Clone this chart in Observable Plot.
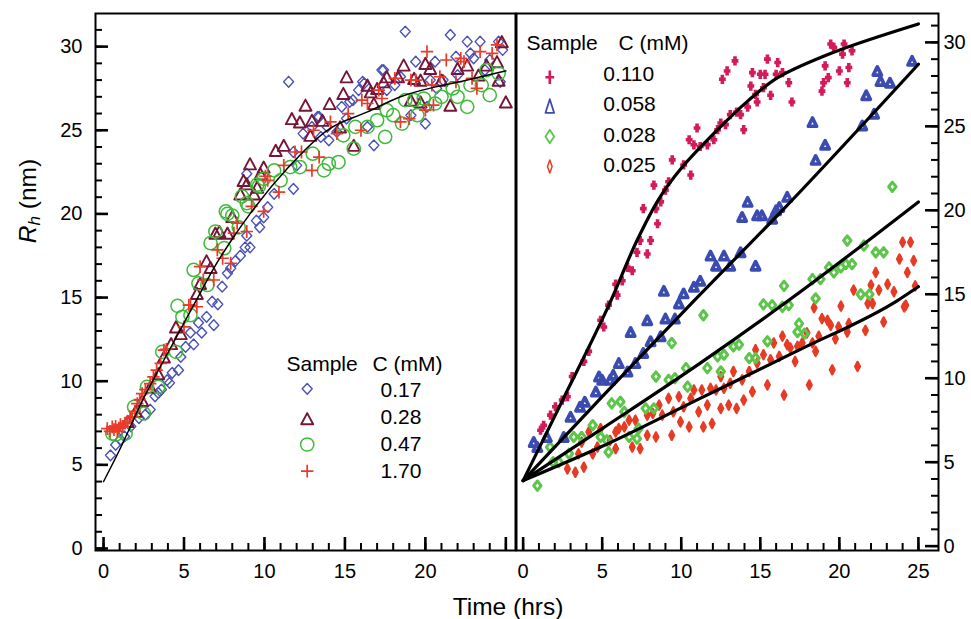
<!DOCTYPE html>
<html><head><meta charset="utf-8">
<script src="https://cdn.jsdelivr.net/npm/d3@7"></script>
<script src="https://cdn.jsdelivr.net/npm/@observablehq/plot@0.6"></script>
<style>
body{margin:0;background:#fff;color:#000;}
#wrap{position:relative;width:971px;height:619px;font-family:"Liberation Sans",Arial,Helvetica,sans-serif;}
#wrap svg{position:absolute;top:0;}
</style></head><body><div id="wrap"></div>
<script>
// ---------- DATA (time in hrs, Rh in nm) ----------
const leftConcs = ["0.17", "0.28", "0.47", "1.70"];
const rightConcs = ["0.110", "0.058", "0.028", "0.025"];
const leftXTickLabels = [0, 5, 10, 15, 20];
const rightXTickLabels = [0, 5, 10, 15, 20, 25];
const yTickLabels = [0, 5, 10, 15, 20, 25, 30];
const xMinorTicks = [0,1,2,3,4,5,6,7,8,9,10,11,12,13,14,15,16,17,18,19,20,21,22,23,24,25];
const xMajorTicks = [0, 5, 10, 15, 20, 25];
const yMinorTicks = [0,1,2,3,4,5,6,7,8,9,10,11,12,13,14,15,16,17,18,19,20,21,22,23,24,25,26,27,28,29,30,31];
const yMajorTicks = [0, 5, 10, 15, 20, 25, 30];

// left panel: 0.17 mM
const L017 = [[0.43,5.57],[0.75,6.2],[1.05,6.5],[1.3,6.7],[1.7,7.3],[2.2,7.8],[2.6,8.0],[2.9,8.3],[3.2,9.1],[3.4,9.3],[3.6,9.5],[3.95,10.06],[4.1,9.9],[4.27,10.5],[4.66,10.66],[4.8,11.45],[5.1,12.05],[5.4,12.9],[5.6,12.2],[6.1,12.9],[5.9,13.5],[6.4,13.85],[6.75,14.75],[6.85,13.35],[7.1,14.6],[7.37,15.65],[7.7,16.45],[7.9,16.75],[8.2,17.2],[8.5,17.5],[8.8,18.0],[9.1,18.0],[8.9,18.7],[9.5,19.6],[9.7,19.2],[9.95,19.8],[8.9,22.4],[10.2,20.4],[10.6,21.2],[11.8,21.5],[11.5,27.9],[11.8,23.7],[12.0,22.9],[12.4,24.8],[12.95,25.2],[13.4,25.8],[13.5,24.6],[14.0,24.4],[14.5,24.9],[15.1,25.7],[14.8,26.4],[15.5,26.8],[15.85,27.4],[16.1,27.9],[16.4,25.2],[16.8,24.1],[17.4,28.6],[17.6,27.4],[18.1,27.7],[18.75,30.9],[18.45,28.2],[19.4,29.1],[19.1,25.9],[20.0,25.4],[20.1,26.4],[20.3,28.0],[20.7,27.5],[20.6,29.1],[21.1,28.0],[21.55,30.7],[21.9,29.4],[22.0,28.3],[22.6,30.3],[22.8,29.6],[23.0,29.3],[23.4,30.3],[23.7,28.6],[24.0,29.2],[24.55,30.3],[24.8,29.8],[24.65,27.9],[13.3,25.8],[13.9,25.2],[15.3,26.7],[16.2,27.8],[17.3,28.6]];
// left panel: 0.28 mM
const L028 = [[1.5,7.6],[2.0,8.2],[2.4,8.85],[2.9,9.65],[3.4,10.45],[3.75,11.45],[4.2,12.25],[4.5,13.25],[4.8,12.85],[5.8,15.25],[6.0,15.85],[6.4,17.2],[6.65,16.8],[6.95,18.85],[7.2,18.95],[7.7,18.85],[8.0,19.85],[8.5,21.2],[8.7,22.0],[8.9,21.8],[9.1,23.0],[9.35,21.2],[9.55,21.6],[9.75,22.4],[9.95,22.8],[10.7,23.8],[11.2,24.1],[11.7,25.7],[12.2,25.5],[12.55,26.5],[12.85,24.7],[12.95,25.6],[13.6,25.6],[14.05,26.6],[14.7,25.2],[14.9,27.2],[15.1,28.2],[15.55,24.1],[16.4,27.7],[16.6,27.3],[16.8,26.6],[17.0,27.5],[17.4,27.9],[17.6,28.2],[18.3,28.2],[18.65,28.9],[19.1,26.8],[19.3,28.1],[19.7,28.0],[19.7,26.7],[20.0,29.0],[20.3,28.7],[21.0,28.0],[21.55,26.5],[22.0,28.7],[22.6,28.9],[23.3,28.3],[23.8,28.9],[24.45,29.1],[24.55,28.0],[24.75,30.3],[25.0,26.7]];
// left panel: 0.47 mM
const L047 = [[0.54,6.87],[0.75,6.8],[1.37,6.87],[1.9,8.46],[2.5,8.07],[2.7,9.66],[3.4,9.66],[3.65,11.75],[4.5,11.75],[4.6,14.5],[4.9,13.85],[5.4,13.95],[5.6,16.65],[5.9,15.85],[6.45,15.75],[6.65,18.25],[6.95,18.95],[7.5,17.95],[7.6,20.15],[7.7,20.0],[8.0,19.9],[8.4,19.2],[8.6,21.05],[8.9,20.65],[9.0,20.45],[9.55,21.75],[9.65,21.65],[9.95,22.1],[10.6,22.6],[11.0,22.0],[11.6,22.8],[12.2,22.8],[13.0,23.6],[13.7,22.6],[14.0,23.0],[14.6,23.1],[14.9,24.7],[15.55,23.9],[15.65,25.2],[16.4,25.2],[17.0,25.6],[17.5,24.6],[17.6,26.2],[18.0,25.9],[18.55,25.4],[18.75,26.8],[19.3,26.8],[19.5,25.9],[19.9,26.9],[20.6,26.6],[21.0,27.0],[21.7,27.5],[22.0,27.0],[22.6,26.4],[22.8,27.7],[23.5,27.7],[24.0,27.1],[23.8,28.6],[24.55,28.4]];
// left panel: 1.70 mM
const L170 = [[0.23,7.17],[0.4,7.0],[0.54,7.27],[0.65,7.1],[0.75,7.3],[0.85,7.0],[0.95,7.2],[1.05,7.4],[1.2,7.3],[1.35,7.5],[1.5,7.6],[1.65,7.8],[1.78,7.86],[1.95,8.2],[2.1,8.66],[2.25,8.9],[2.4,9.26],[2.6,9.5],[2.9,9.86],[3.1,10.26],[3.3,10.66],[3.55,11.06],[3.75,11.86],[3.9,11.9],[5.0,13.25],[5.3,14.55],[5.4,14.55],[5.8,14.45],[6.0,16.85],[6.2,16.05],[6.85,16.05],[7.07,17.85],[7.4,17.35],[7.9,17.05],[8.1,18.85],[8.3,19.45],[8.9,18.95],[9.2,20.45],[9.95,20.15],[10.06,22.25],[10.2,22.0],[10.9,21.3],[11.2,22.9],[11.9,23.7],[12.3,23.7],[12.95,22.6],[13.4,23.4],[13.05,25.0],[14.1,25.5],[14.5,24.8],[15.2,26.0],[16.0,25.0],[16.05,26.8],[16.4,26.6],[17.1,27.4],[17.3,26.9],[18.1,28.1],[18.45,25.5],[19.0,25.7],[19.1,28.0],[19.4,28.0],[20.0,26.2],[20.1,29.7],[20.4,27.7],[20.5,26.5],[20.9,28.2],[21.3,29.2],[21.9,27.9],[22.2,29.3],[22.4,29.1],[22.9,28.1],[23.2,27.5],[23.4,29.7],[24.15,29.6],[24.45,30.1]];
const leftFit = [[0,4.0],[1,5.9],[2.5,9.0],[4,11.7],[5.8,14.9],[7,17.0],[8,18.5],[9.1,20.0],[11.5,22.8],[13.9,25.0],[16.4,26.1],[18.45,27.0],[22.6,28.0],[25,28.55]];

// right panel: 0.110 mM
const R110 = [[1.1,6.9],[1.3,7.2],[1.73,7.8],[2.04,8.3],[2.47,8.7],[2.8,8.9],[3.1,10.1],[3.84,11.0],[4.15,11.6],[4.9,13.45],[5.1,13.05],[5.4,14.35],[5.95,14.95],[5.85,15.6],[6.27,15.8],[6.6,16.6],[6.9,16.4],[7.2,17.5],[7.85,17.4],[7.4,18.2],[8.06,18.2],[8.5,19.2],[7.6,20.1],[8.4,20.1],[8.7,20.5],[9.0,21.2],[8.27,21.5],[9.2,21.7],[10.15,22.7],[10.6,22.1],[9.43,23.0],[10.5,24.2],[10.8,23.9],[11.0,24.9],[11.2,23.8],[11.65,23.9],[12.06,24.2],[12.3,24.8],[12.5,25.2],[12.8,25.1],[13.1,25.7],[13.5,25.85],[13.75,25.7],[13.95,24.8],[14.2,26.15],[14.4,27.4],[14.7,26.9],[14.8,26.45],[14.5,28.2],[15.0,28.1],[15.3,28.1],[15.2,27.3],[15.45,29.0],[15.65,26.85],[16.1,28.8],[16.0,28.1],[16.4,28.2],[16.8,27.6],[17.0,26.45],[12.6,27.8],[12.9,28.3],[13.4,28.9],[18.9,27.1],[19.0,27.6],[19.3,27.9],[19.1,28.6],[19.45,29.9],[19.65,29.7],[20.2,29.3],[20.3,29.9],[20.0,28.3],[20.5,27.6],[20.6,28.5],[20.8,29.5]];
// right panel: 0.058 mM
const R058 = [[0.67,6.2],[0.9,5.9],[1.5,6.5],[2.57,6.5],[3.0,7.7],[3.6,8.3],[3.9,8.6],[4.6,9.2],[4.8,10.1],[5.0,9.9],[5.5,9.9],[5.7,10.2],[6.05,10.9],[6.6,10.4],[6.8,12.75],[7.1,10.9],[7.6,11.5],[8.06,12.2],[8.7,12.5],[7.85,13.45],[9.0,13.55],[9.6,13.55],[9.85,14.45],[8.9,15.2],[10.15,15.05],[10.8,15.45],[11.2,15.8],[11.85,17.3],[12.2,16.7],[12.7,17.3],[13.1,16.7],[13.75,17.5],[14.7,16.7],[13.85,19.6],[14.2,20.5],[14.8,19.7],[15.1,19.7],[15.75,19.5],[16.0,20.0],[16.2,20.2],[16.7,20.8],[18.5,23.0],[19.1,23.9],[18.3,25.25],[21.45,25.05],[21.7,26.85],[22.2,25.75],[22.4,28.3],[22.6,27.7],[23.2,27.6],[24.6,28.9]];
// right panel: 0.028 mM
const R028 = [[0.9,3.6],[1.7,5.9],[1.9,5.0],[2.25,5.0],[2.9,5.5],[3.2,6.5],[3.7,6.5],[4.4,7.2],[4.9,6.5],[5.3,6.3],[5.4,5.6],[5.6,8.5],[6.15,8.6],[6.4,8.0],[6.7,6.5],[7.3,7.0],[7.2,6.4],[7.75,8.2],[8.27,8.2],[8.4,10.1],[9.2,9.9],[9.6,10.0],[9.4,12.1],[10.3,10.6],[10.4,9.5],[11.4,13.75],[11.65,10.6],[12.3,11.3],[12.5,10.4],[12.7,11.4],[13.3,11.9],[13.65,12.0],[14.3,11.2],[14.7,11.2],[15.45,12.2],[15.2,14.4],[15.75,14.35],[16.4,14.25],[16.5,15.5],[16.8,14.35],[17.35,12.75],[17.45,13.25],[17.8,12.65],[18.3,15.9],[18.5,14.75],[18.8,15.9],[19.35,16.6],[19.65,16.3],[20.1,16.6],[20.4,16.8],[20.8,16.8],[20.5,18.2],[21.55,17.9],[21.35,15.0],[21.9,15.0],[22.3,17.5],[22.8,17.5],[23.35,21.4]];
// right panel: 0.025 mM
const R025 = [[2.8,4.6],[3.3,4.4],[3.84,4.7],[3.5,5.5],[3.7,6.2],[4.15,6.8],[4.4,5.5],[4.7,5.9],[4.9,7.0],[5.5,6.3],[5.85,5.8],[5.85,6.8],[6.05,7.0],[6.4,7.1],[6.7,7.5],[6.9,5.9],[7.1,7.5],[7.4,5.8],[7.85,6.6],[7.85,7.8],[8.2,7.9],[8.4,6.5],[8.6,8.4],[8.8,7.8],[9.2,8.8],[9.4,6.6],[9.5,8.0],[9.85,8.9],[9.95,7.4],[10.15,8.3],[10.5,7.1],[10.6,8.8],[10.8,9.3],[11.1,8.0],[11.3,9.3],[11.4,7.1],[11.65,8.4],[11.85,9.4],[11.95,7.3],[12.2,9.3],[12.5,8.2],[12.5,10.1],[12.7,9.4],[13.0,8.4],[13.1,9.7],[13.3,10.4],[13.5,8.2],[13.85,9.9],[13.95,8.7],[14.3,10.4],[14.5,9.2],[14.7,11.7],[14.8,10.9],[15.2,11.4],[15.45,9.6],[15.65,11.1],[15.85,12.1],[16.2,11.3],[16.4,12.5],[16.5,9.0],[16.7,12.0],[16.9,11.8],[17.2,11.0],[17.35,11.9],[17.65,12.1],[17.95,12.7],[18.1,9.6],[18.3,12.1],[18.5,11.6],[18.4,14.2],[18.7,12.5],[18.9,13.55],[19.25,13.45],[19.45,13.15],[19.55,10.5],[19.75,12.35],[19.95,13.05],[20.1,14.3],[20.5,12.75],[20.6,13.25],[21.15,10.7],[21.65,12.85],[21.8,14.45],[22.1,14.45],[22.8,13.35],[24.1,14.25],[20.9,15.25],[22.0,15.55],[22.3,16.3],[22.5,15.25],[23.05,15.6],[23.45,15.15],[23.8,17.1],[24.0,18.1],[24.5,18.1],[24.3,16.3],[24.7,17.0],[24.8,15.5],[24.2,14.35]];
const fit110 = [[0,3.9],[2.5,8.7],[5.3,14.1],[7.2,18.2],[8.6,20.7],[10,22.5],[12.3,24.8],[14.2,26.5],[16.1,27.9],[19.6,29.4],[25,31.1]];
const fit058 = [[0,3.9],[5,8.9],[10.8,14.6],[16.5,20.1],[25,28.7]];
const fit028 = [[0,3.9],[5,7.0],[11.2,10.9],[16.8,14.64],[25,20.5]];
const fit025 = [[0,3.9],[4.9,5.9],[11.2,8.8],[17.5,11.7],[23.7,14.64],[25,15.45]];

// ---------- STYLE ----------
const FONT = '"Liberation Sans", Arial, Helvetica, sans-serif';
const H = 619, MT = 13, MB = 69;
const FH = H - MT - MB;
const cL = {d: "#4a52b5", t: "#761535", c: "#3ebb3b", p: "#ea3a2a"};
const cR = {p: "#d51a5c", t: "#3b4cb0", d: "#5cc64a", e: "#e63b25"};

// custom symbols (fixed pixel sizes)
const tri = (hw, hh) => ({draw(ctx) { ctx.moveTo(0, -hh); ctx.lineTo(hw, hh); ctx.lineTo(-hw, hh); ctx.closePath(); }});
const dia = (hw, hh) => ({draw(ctx) { ctx.moveTo(0, -hh); ctx.lineTo(hw, 0); ctx.lineTo(0, hh); ctx.lineTo(-hw, 0); ctx.closePath(); }});
const plus = (hw, hh) => ({draw(ctx) { ctx.moveTo(-hw, 0); ctx.lineTo(hw, 0); ctx.moveTo(0, -hh); ctx.lineTo(0, hh); }});
const circ = (r) => ({draw(ctx) { ctx.moveTo(r, 0); ctx.arc(0, 0, r, 0, 2 * Math.PI); }});

const symL = [
  {sym: dia(5.0, 5.4), stroke: cL.d, fill: "none", sw: 1.4},
  {sym: tri(6.0, 5.6), stroke: cL.t, fill: "none", sw: 1.9},
  {sym: circ(6.6), stroke: cL.c, fill: "none", sw: 1.5},
  {sym: plus(6.2, 6.4), stroke: cL.p, fill: "none", sw: 1.7}
];
const symR = [
  {sym: plus(3.4, 4.6), stroke: cR.p, fill: "none", sw: 3.6},
  {sym: tri(4.1, 4.1), stroke: cR.t, fill: "none", sw: 3.7},
  {sym: dia(3.7, 4.7), stroke: cR.d, fill: "none", sw: 3.0},
  {sym: dia(2.4, 4.6), stroke: cR.e, fill: cR.e, sw: 2.3}
];
const symRLeg = [
  {sym: plus(4.4, 6.8), stroke: cR.p, fill: "none", sw: 2.6},
  {sym: tri(4.3, 6.8), stroke: cR.t, fill: "none", sw: 1.8},
  {sym: dia(4.3, 6.7), stroke: cR.d, fill: "none", sw: 1.8},
  {sym: dia(2.3, 6.5), stroke: cR.e, fill: "none", sw: 1.5}
];

function dots(data, s) {
  return Plot.dot(data, {x: d => d[0], y: d => d[1], symbol: s.sym, stroke: s.stroke, fill: s.fill,
    strokeWidth: s.sw, strokeLinejoin: "round"});
}
function tickMarks(fw, side) {
  const mk = (len) => side === "left" ? {insetRight: fw - len} : {insetLeft: fw - len};
  return [
    Plot.tickX(xMinorTicks, {x: d => d, insetTop: FH - 7, strokeWidth: 2}),
    Plot.tickX(xMajorTicks, {x: d => d, insetTop: FH - 13, strokeWidth: 2.6}),
    Plot.tickY(yMinorTicks, {y: d => d, ...mk(7), strokeWidth: 2}),
    Plot.tickY(yMajorTicks, {y: d => d, ...mk(13), strokeWidth: 2.6})
  ];
}
function legend(concs, syms, L) {
  const marks = [
    Plot.text(["Sample"], {text: d => d, frameAnchor: "top-left", dx: L.hx1, dy: L.hy, textAnchor: "start", lineAnchor: "bottom", fontSize: 21}),
    Plot.text(["C (mM)"], {text: d => d, frameAnchor: "top-left", dx: L.hx2, dy: L.hy, textAnchor: "start", lineAnchor: "bottom", fontSize: 21})
  ];
  concs.forEach((c, i) => {
    const s = syms[i];
    marks.push(Plot.dot([c], {frameAnchor: "top-left", dx: L.sx, dy: L.sy[i], symbol: s.sym, stroke: s.stroke, fill: s.fill, strokeWidth: s.sw, strokeLinejoin: "round"}));
    marks.push(Plot.text([c], {text: d => d, frameAnchor: "top-left", dx: L.vx, dy: L.vy[i], textAnchor: "start", lineAnchor: "bottom", fontSize: 21}));
  });
  return marks;
}

// ---------- LEFT PANEL ----------
const LW = 520, LML = 95, LMR = 5, LFW = LW - LML - LMR;
const leftPlot = Plot.plot({
  width: LW, height: H, marginLeft: LML, marginRight: LMR, marginTop: MT, marginBottom: MB,
  x: {domain: [-0.5, 25.6]},
  y: {domain: [-0.12, 31.98]},
  style: {background: "transparent", fontFamily: FONT, overflow: "visible", color: "black"},
  marks: [
    ...tickMarks(LFW, "left"),
    Plot.axisX(leftXTickLabels, {tickSize: 0, tickPadding: 13, fontSize: 20, tickFormat: d => String(d), label: null}),
    Plot.axisY(yTickLabels, {tickSize: 0, tickPadding: 13, fontSize: 20, tickFormat: d => String(d), label: null}),
    dots(L017, symL[0]),
    dots(L028, symL[1]),
    dots(L047, symL[2]),
    dots(L170, symL[3]),
    Plot.line(leftFit, {x: d => d[0], y: d => d[1], curve: "monotone-x", stroke: "black", strokeWidth: 1.5}),
    Plot.frame({stroke: "black", strokeWidth: 2}),
    ...legend(leftConcs, symL, {hx1: 191, hx2: 277, hy: 357, sx: 211.7, sy: [375.3, 405.2, 431, 457.7], vx: 285, vy: [383.7, 410.5, 437, 464.3]})
  ]
});
leftPlot.style.left = "0px";

// ---------- RIGHT PANEL ----------
const RX0 = 480, RW = 491, RML = 36, RMR = 33, RFW = RW - RML - RMR;
const rightPlot = Plot.plot({
  width: RW, height: H, marginLeft: RML, marginRight: RMR, marginTop: MT, marginBottom: MB,
  x: {domain: [-0.42, 26.27]},
  y: {domain: [-0.26, 31.72]},
  style: {background: "transparent", fontFamily: FONT, overflow: "visible", color: "black"},
  marks: [
    ...tickMarks(RFW, "right"),
    Plot.axisX(rightXTickLabels, {tickSize: 0, tickPadding: 13, fontSize: 20, tickFormat: d => String(d), label: null}),
    Plot.axisY(yTickLabels, {anchor: "right", tickSize: 0, tickPadding: 5, fontSize: 20, tickFormat: d => String(d), label: null}),
    dots(R025, symR[3]),
    dots(R028, symR[2]),
    dots(R058, symR[1]),
    dots(R110, symR[0]),
    Plot.line(fit110, {x: d => d[0], y: d => d[1], curve: "catmull-rom", stroke: "black", strokeWidth: 3.2}),
    ...[fit058, fit028, fit025].map(f => Plot.line(f, {x: d => d[0], y: d => d[1], curve: "monotone-x", stroke: "black", strokeWidth: 3.2})),
    Plot.frame({stroke: "black", strokeWidth: 2}),
    ...legend(rightConcs, symRLeg, {hx1: 10, hx2: 102, hy: 36.5, sx: 33.3, sy: [63.7, 92.5, 123, 153], vx: 86.7, vy: [67, 97.7, 128.7, 158.7]})
  ]
});
rightPlot.style.left = RX0 + "px";

const wrap = document.getElementById("wrap");
wrap.appendChild(leftPlot);
wrap.appendChild(rightPlot);

// ---------- AXIS TITLES ----------
const titles = d3.create("svg").attr("width", 971).attr("height", 619)
  .style("position", "absolute").style("left", "0px").style("top", "0px")
  .style("overflow", "visible").style("pointer-events", "none");
titles.append("text").attr("x", 508).attr("y", 615).attr("text-anchor", "middle")
  .attr("font-family", FONT).attr("font-size", 24.5).text("Time (hrs)");
const yl = titles.append("text").attr("transform", "translate(36,201) rotate(-90)")
  .attr("text-anchor", "middle").attr("font-family", FONT).attr("font-size", 24.5);
yl.append("tspan").attr("font-style", "italic").text("R");
yl.append("tspan").attr("font-style", "italic").attr("font-size", 17).attr("dy", 4).text("h");
yl.append("tspan").attr("dy", -4).text(" (nm)");
wrap.appendChild(titles.node());
</script></body></html>
